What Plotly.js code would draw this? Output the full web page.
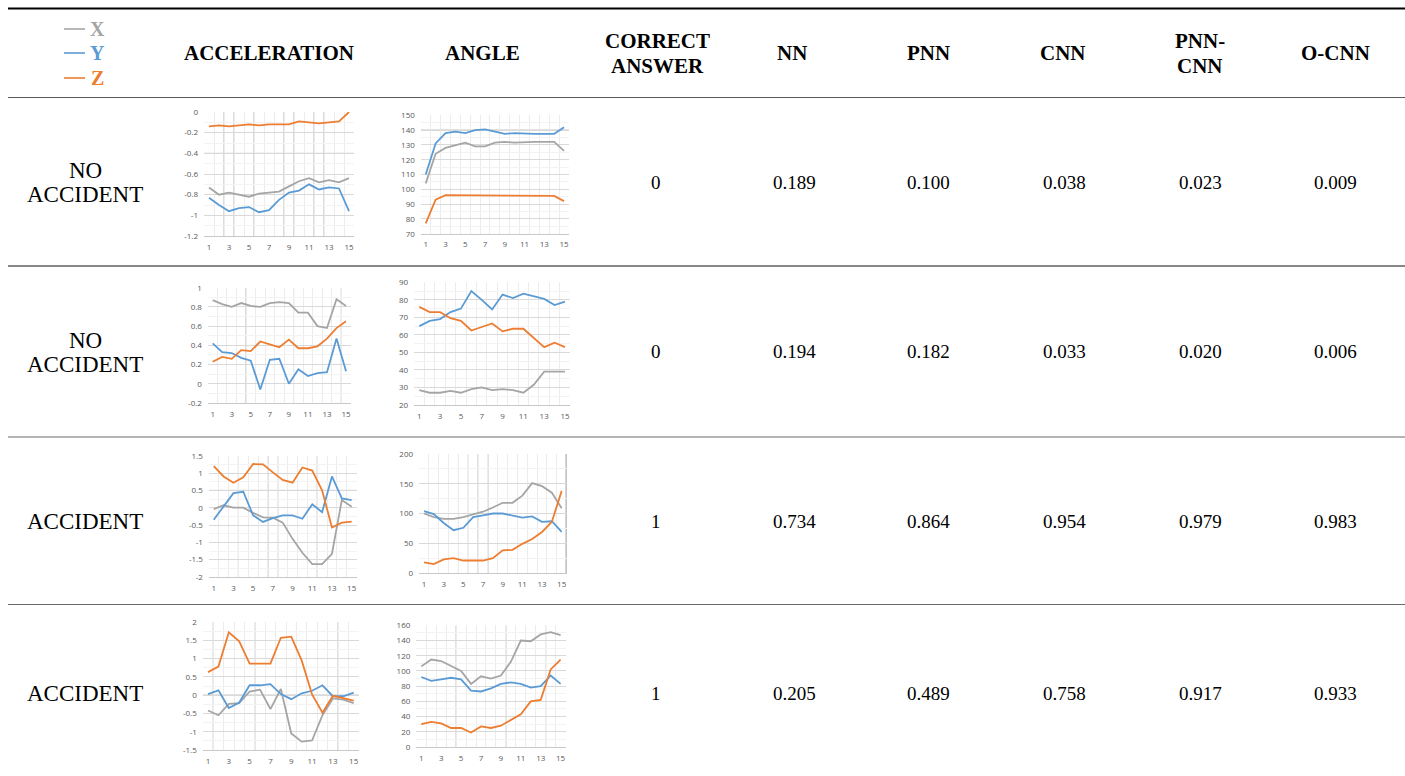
<!DOCTYPE html>
<html>
<head>
<meta charset="utf-8">
<script src="https://cdn.plot.ly/plotly-3.0.1.min.js"></script>
<style>
  html, body { margin: 0; padding: 0; background: #ffffff; }
  #chart { width: 1405px; height: 776px; }
</style>
</head>
<body>
<div id="chart"></div>
<script>
// Time steps shared by every small chart
const steps = [1, 2, 3, 4, 5, 6, 7, 8, 9, 10, 11, 12, 13, 14, 15];
const stepLabels = [1, 3, 5, 7, 9, 11, 13, 15];

// Row 1 - no accident
const accX1 = [-0.73, -0.80, -0.78, -0.80, -0.82, -0.79, -0.78, -0.77, -0.72, -0.67, -0.64, -0.68, -0.66, -0.68, -0.64];
const accY1 = [-0.83, -0.90, -0.96, -0.93, -0.92, -0.97, -0.95, -0.85, -0.78, -0.76, -0.70, -0.75, -0.73, -0.74, -0.96];
const accZ1 = [-0.14, -0.13, -0.14, -0.13, -0.12, -0.13, -0.12, -0.12, -0.12, -0.09, -0.10, -0.11, -0.10, -0.09, 0.00];
const angX1 = [104, 124, 128, 130, 131.5, 129, 129, 131.5, 132, 131.5, 132, 132, 132, 132, 126];
const angY1 = [110, 131, 138, 139, 138, 140, 140.5, 139, 137.5, 138, 137.5, 137.5, 137.5, 137.5, 142];
const angZ1 = [77, 93, 96, 96, 95.5, 96, 96, 96, 96, 95.5, 95.5, 96, 96, 95.5, 92];

// Row 2 - no accident
const accX2 = [0.87, 0.83, 0.80, 0.84, 0.81, 0.80, 0.84, 0.85, 0.84, 0.74, 0.74, 0.60, 0.58, 0.88, 0.81];
const accY2 = [0.42, 0.33, 0.32, 0.27, 0.24, -0.06, 0.25, 0.26, 0.00, 0.15, 0.08, 0.11, 0.12, 0.47, 0.13];
const accZ2 = [0.23, 0.28, 0.26, 0.35, 0.34, 0.44, 0.41, 0.38, 0.46, 0.37, 0.37, 0.39, 0.47, 0.58, 0.65];
const angX2 = [28.5, 27, 27, 28, 27, 29, 30, 28.5, 29, 28.5, 27, 31.5, 39, 39, 39];
const angY2 = [65, 68, 69, 73, 75, 85, 80, 74.5, 83, 81, 83.5, 82, 80.5, 77, 79];
const angZ2 = [76, 73, 73, 69.5, 68, 62.5, 64.5, 66.5, 62, 63.5, 63.5, 58.5, 53, 55.5, 53];

// Row 3 - accident
const accX3 = [-0.04, 0.07, 0.00, 0.00, -0.15, -0.28, -0.29, -0.43, -0.90, -1.30, -1.63, -1.63, -1.33, 0.22, 0.03];
const accY3 = [-0.35, 0.05, 0.42, 0.46, -0.22, -0.41, -0.30, -0.22, -0.22, -0.32, 0.10, -0.13, 0.90, 0.27, 0.22];
const accZ3 = [1.20, 0.90, 0.72, 0.88, 1.26, 1.25, 1.02, 0.80, 0.72, 1.16, 1.07, 0.50, -0.57, -0.43, -0.40];
const angX3 = [100, 94, 91, 91, 94, 99, 103, 110, 118, 118, 130, 151, 146, 135, 109];
const angY3 = [104, 99, 84, 72, 76, 94, 97, 100, 100, 97, 93, 95, 86, 87, 69];
const angZ3 = [18, 15, 23, 25, 21, 21, 21, 25, 38, 39, 49, 57, 69, 86, 138];

// Row 4 - accident
const accX4 = [-0.42, -0.55, -0.24, -0.22, 0.10, 0.15, -0.38, 0.17, -1.05, -1.27, -1.24, -0.55, -0.09, -0.12, -0.22];
const accY4 = [0.03, 0.13, -0.35, -0.20, 0.27, 0.27, 0.30, 0.03, -0.11, 0.05, 0.12, 0.27, -0.03, -0.03, 0.07];
const accZ4 = [0.63, 0.78, 1.72, 1.47, 0.86, 0.86, 0.86, 1.57, 1.60, 0.95, 0.02, -0.48, -0.02, -0.08, -0.15];
const angX4 = [106, 115, 113, 106, 100, 83, 93, 90, 94, 112, 140, 139, 148, 151, 147];
const angY4 = [92, 87, 89, 91, 89, 74, 73, 77, 83, 85, 83, 78, 80, 94, 83];
const angZ4 = [30, 33, 31, 25, 25, 19, 27, 25, 28, 35, 43, 60, 62, 102, 115];

// Table columns and results
const rowLabels = [["NO", "ACCIDENT"], ["NO", "ACCIDENT"], ["ACCIDENT"], ["ACCIDENT"]];
const correctAnswer = [0, 0, 1, 1];
const nnScores = [0.189, 0.194, 0.734, 0.205];
const pnnScores = [0.100, 0.182, 0.864, 0.489];
const cnnScores = [0.038, 0.033, 0.954, 0.758];
const pnnCnnScores = [0.023, 0.020, 0.979, 0.917];
const oCnnScores = [0.009, 0.006, 0.983, 0.933];
const axisNames = ["X", "Y", "Z"];
const seriesColors = ["#A5A5A5", "#5B9BD5", "#ED7D31"];

// Page geometry (pixels)
const W = 1405, H = 776;
const px = x => x / W;
const py = y => 1 - y / H;

// Small chart boxes: [left, right, top, bottom]
const panelBoxes = [
  [204, 354, 112, 236], [420.8, 569, 115.3, 233.7],
  [207.9, 350.8, 287.7, 403], [414.1, 570.2, 282.3, 405],
  [208.8, 356.6, 455.7, 577], [419.1, 566.6, 454, 573],
  [202.8, 358.9, 622, 750], [416.3, 565.6, 625.3, 747]
];
// y range and tick spacing for each small chart
const panelRanges = [
  [-1.2, 0, 0.2], [70, 150, 10],
  [-0.2, 1, 0.2], [20, 90, 10],
  [-2, 1.5, 0.5], [0, 200, 50],
  [-1.5, 2, 0.5], [0, 160, 20]
];
const panelSeries = [
  [accX1, accY1, accZ1], [angX1, angY1, angZ1],
  [accX2, accY2, accZ2], [angX2, angY2, angZ2],
  [accX3, accY3, accZ3], [angX3, angY3, angZ3],
  [accX4, accY4, accZ4], [angX4, angY4, angZ4]
];
// Heavier grid lines inside the small charts
const accentX = [
  [2.5, 3.5, 5.5, 8.5, 9.5, 11.5, 12.5], [],
  [4.5, 5.5, 9.5, 14.5], [],
  [2.5, 3.5, 6.5, 7.5, 11.5], [4.5, 5.5, 6.5, 7.5, 15.5],
  [1.5, 5.5, 9.5, 13.5], [4.5, 9.5, 13.5]
];
const accentY = [[-0.4], [140], [], [], [0.5], [], [0], []];

const traces = [];
const layout = {
  width: W, height: H,
  margin: { l: 0, r: 0, t: 0, b: 0 },
  paper_bgcolor: "#ffffff",
  plot_bgcolor: "rgba(0,0,0,0)",
  showlegend: false,
  shapes: [],
  annotations: []
};

const tickFont = { family: "Open Sans, DejaVu Sans, sans-serif", size: 8, color: "#595959" };

panelBoxes.forEach((box, i) => {
  const n = i + 1;
  const xa = "xaxis" + n, ya = "yaxis" + n;
  const xr = "x" + n, yr = "y" + n;
  const [lo, hi, step] = panelRanges[i];
  const yt = [];
  for (let v = lo; v <= hi + step / 2; v += step) yt.push(Math.round(v * 100) / 100);

  layout[xa] = {
    domain: [px(box[0]), px(box[1])],
    anchor: yr,
    range: [0.5, 15.5],
    tickvals: stepLabels,
    ticktext: stepLabels.map(String),
    tickfont: tickFont,
    ticks: "", ticklabelstandoff: 3,
    showgrid: false, zeroline: false,
    showline: true, linecolor: "#c8c8c8", linewidth: 1,
    minor: { tick0: 0.5, dtick: 1, showgrid: true, gridcolor: "#ececec", gridwidth: 1 },
    fixedrange: true
  };
  layout[ya] = {
    domain: [py(box[3]), py(box[2])],
    anchor: xr,
    range: [lo, hi],
    tickvals: yt,
    ticktext: yt.map(String),
    tickfont: tickFont,
    ticks: "", ticklabelstandoff: 5,
    showgrid: true, gridcolor: "#d9d9d9", gridwidth: 1,
    zeroline: false, showline: false,
    minor: { dtick: step / 2, tick0: lo, showgrid: true, gridcolor: "#f3f3f3", gridwidth: 1 },
    fixedrange: true
  };

  accentX[i].forEach(v => layout.shapes.push({
    type: "line", xref: xr, yref: yr, x0: v, x1: v, y0: lo, y1: hi,
    line: { color: v === 15.5 ? "#9a9a9a" : "#b8b8b8", width: v === 15.5 ? 2 : 1 }, layer: "below"
  }));
  accentY[i].forEach(v => layout.shapes.push({
    type: "line", xref: xr, yref: yr, x0: 0.5, x1: 15.5, y0: v, y1: v,
    line: { color: "#b5b5b5", width: 1 }, layer: "below"
  }));

  panelSeries[i].forEach((vals, k) => traces.push({
    type: "scatter", mode: "lines",
    x: steps, y: vals, xaxis: xr, yaxis: yr,
    line: { color: seriesColors[k], width: 1.8 },
    hoverinfo: "skip"
  }));
});

// Table rules
const rule = (y, color, width) => layout.shapes.push({
  type: "line", xref: "paper", yref: "paper",
  x0: px(8), x1: px(1405), y0: py(y), y1: py(y),
  line: { color: color, width: width }
});
rule(8.5, "#000000", 2.2);
rule(97.5, "#5a5a5a", 1.2);
rule(266, "#111111", 1.2);
rule(437, "#6a6a6a", 1.2);
rule(604.5, "#6a6a6a", 1.2);

const serif = "Liberation Serif, Times New Roman, serif";
const addText = (x, y, text, size, color, bold) => layout.annotations.push({
  xref: "paper", yref: "paper", x: px(x), y: py(y),
  xanchor: "center", yanchor: "middle", showarrow: false,
  text: bold ? "<b>" + text + "</b>" : text,
  font: { family: serif, size: size, color: color || "#000000" }
});

// Series key in the header corner
const keyRows = [29, 53, 78];
axisNames.forEach((name, k) => {
  layout.shapes.push({
    type: "line", xref: "paper", yref: "paper",
    x0: px(64), x1: px(85), y0: py(keyRows[k]), y1: py(keyRows[k]),
    line: { color: seriesColors[k], width: 1.6 }
  });
  addText(97, keyRows[k], name, 20, seriesColors[k], true);
});

// Header cells
const hSize = 21;
addText(269, 53, "ACCELERATION", hSize, null, true);
addText(482, 53, "ANGLE", hSize, null, true);
addText(657, 41, "CORRECT", hSize, null, true);
addText(657, 66, "ANSWER", hSize, null, true);
addText(792, 53, "NN", hSize, null, true);
addText(928, 53, "PNN", hSize, null, true);
addText(1063, 53, "CNN", hSize, null, true);
addText(1200, 41, "PNN-", hSize, null, true);
addText(1200, 66, "CNN", hSize, null, true);
addText(1335, 53, "O-CNN", hSize, null, true);

// Body cells
const rowCenters = [182, 352, 521, 693];
const scoreColumns = [
  [794, nnScores], [928, pnnScores], [1064, cnnScores],
  [1200, pnnCnnScores], [1335, oCnnScores]
];
rowCenters.forEach((yc, r) => {
  const lines = rowLabels[r];
  if (lines.length === 2) {
    addText(85, yc - 12, lines[0], 23);
    addText(85, yc + 12, lines[1], 23);
  } else {
    addText(85, yc, lines[0], 23);
  }
  addText(656, yc, String(correctAnswer[r]), 19);
  scoreColumns.forEach(([x, arr]) => addText(x, yc, arr[r].toFixed(3), 19));
});

Plotly.newPlot("chart", traces, layout, { staticPlot: true, displayModeBar: false });
</script>
</body>
</html>
